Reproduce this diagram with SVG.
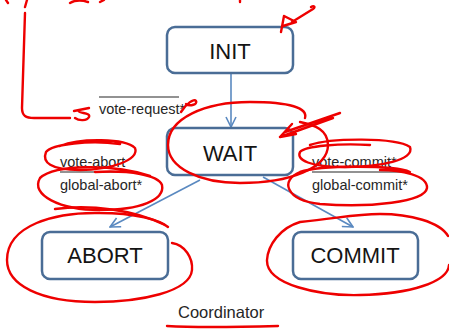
<svg xmlns="http://www.w3.org/2000/svg" width="449" height="329" viewBox="0 0 449 329">
<style>
.node rect{fill:#fff;stroke:#4a6d96;stroke-width:2.5}
.node text{font-family:"Liberation Sans",Arial,sans-serif;font-size:22px;fill:#141414;text-anchor:middle}
.lbl{font-family:"Liberation Sans",Arial,sans-serif;font-size:14.5px;fill:#262626}
.conn{stroke:#5a89c0;stroke-width:1.6;fill:none}
.bar{stroke:#262626;stroke-width:1.2}
.red{stroke:#ee0000;stroke-width:2.4;fill:none;stroke-linecap:round;stroke-linejoin:round}
</style>
<defs>
<marker id="ah" viewBox="0 0 12 12" refX="11" refY="6" markerWidth="12" markerHeight="12" markerUnits="userSpaceOnUse" orient="auto">
<path d="M1,1 L11,6 L1,11" fill="none" stroke="#5a89c0" stroke-width="1.6"/>
</marker>
</defs>
<rect width="449" height="329" fill="#fff"/>
<g id="connectors">
<path class="conn" d="M231,73 L231,127" marker-end="url(#ah)"/>
<path class="conn" d="M200,180 L110,227" marker-end="url(#ah)"/>
<path class="conn" d="M263,177 L353,227" marker-end="url(#ah)"/>
</g>
<g id="init" class="node"><rect x="167" y="27" width="126" height="46" rx="8"/><text x="230" y="59">INIT</text></g>
<g id="wait" class="node"><rect x="167" y="128" width="126" height="47" rx="8"/><text x="230" y="161">WAIT</text></g>
<g id="abort" class="node"><rect x="42" y="232" width="126" height="47" rx="8"/><text x="105" y="263">ABORT</text></g>
<g id="commit" class="node"><rect x="293" y="232" width="125" height="47" rx="8"/><text x="355" y="263">COMMIT</text></g>
<g id="labels">
<line class="bar" x1="99" y1="97" x2="179" y2="97"/>
<text class="lbl" x="99" y="114">vote-request*</text>
<text class="lbl" x="60" y="167">vote-abort</text>
<line class="bar" x1="60" y1="172" x2="130" y2="172"/>
<text class="lbl" x="60" y="190">global-abort*</text>
<text class="lbl" x="312" y="167">vote-commit*</text>
<line class="bar" x1="312" y1="172" x2="405" y2="172"/>
<text class="lbl" x="312" y="190">global-commit*</text>
<text class="lbl" x="178" y="318" style="font-size:16.5px">Coordinator</text>
</g>
<g id="annotations" class="red">
<path d="M6,0 L8,3 M27,0 L25,7 M70,3 C75,0 82,0 88,2 M100,2 L104,0 M240,0 L240,2"/>
<path d="M25,13 C24,40 23,80 22,108 C22,116 26,118 34,118 L70,118"/>
<path d="M74,111 L89,108 M79,110 C77,114 91,112 89,117 C87,121 79,121 75,118"/>
<path d="M181,112 C186,104 194,98 196,101 C198,104 190,107 186,104"/>
<path d="M281,32 L284,16 L296,22 L283,26 M292,22 L313,9 C316,7 314,5 311,7"/>
<path d="M305,118 C308,108 290,102 250,102 C205,102 168,118 168,145 C168,168 200,183 240,183 C290,183 328,168 328,145 C328,130 315,125 300,122"/>
<path d="M285,132 L340,113 M280,137 L333,118 M280,137 L292,124 M280,137 L296,134"/>
<path d="M60,146 C80,138 125,138 135,148 C140,160 110,170 80,170 C50,170 42,162 46,152 C52,144 90,140 120,144"/>
<path d="M150,176 C115,164 55,164 40,178 C30,195 60,210 100,210 C140,210 165,200 162,185 C158,175 130,170 95,172"/>
<path d="M310,145 C330,138 395,137 410,147 C415,160 380,167 345,167 C310,167 296,160 300,152 C305,146 340,143 370,145"/>
<path d="M410,172 C395,165 320,165 300,172 C280,180 285,200 320,204 C370,208 425,202 427,188 C428,175 400,170 380,170"/>
<path d="M172,243 C185,245 193,258 192,270 C190,292 140,302 95,302 C40,302 7,285 7,260 C7,225 55,212 100,213 C135,213 160,220 168,227"/>
<path d="M55,209 C90,204 135,210 165,225"/>
<path d="M448,236 C440,222 410,214 380,214 C355,214 340,218 300,222 C280,228 268,245 267,260 C266,285 320,296 360,295 C410,294 448,282 449,265"/>
<path d="M167,326 C200,328 240,327 278,326"/>
</g>
</svg>
